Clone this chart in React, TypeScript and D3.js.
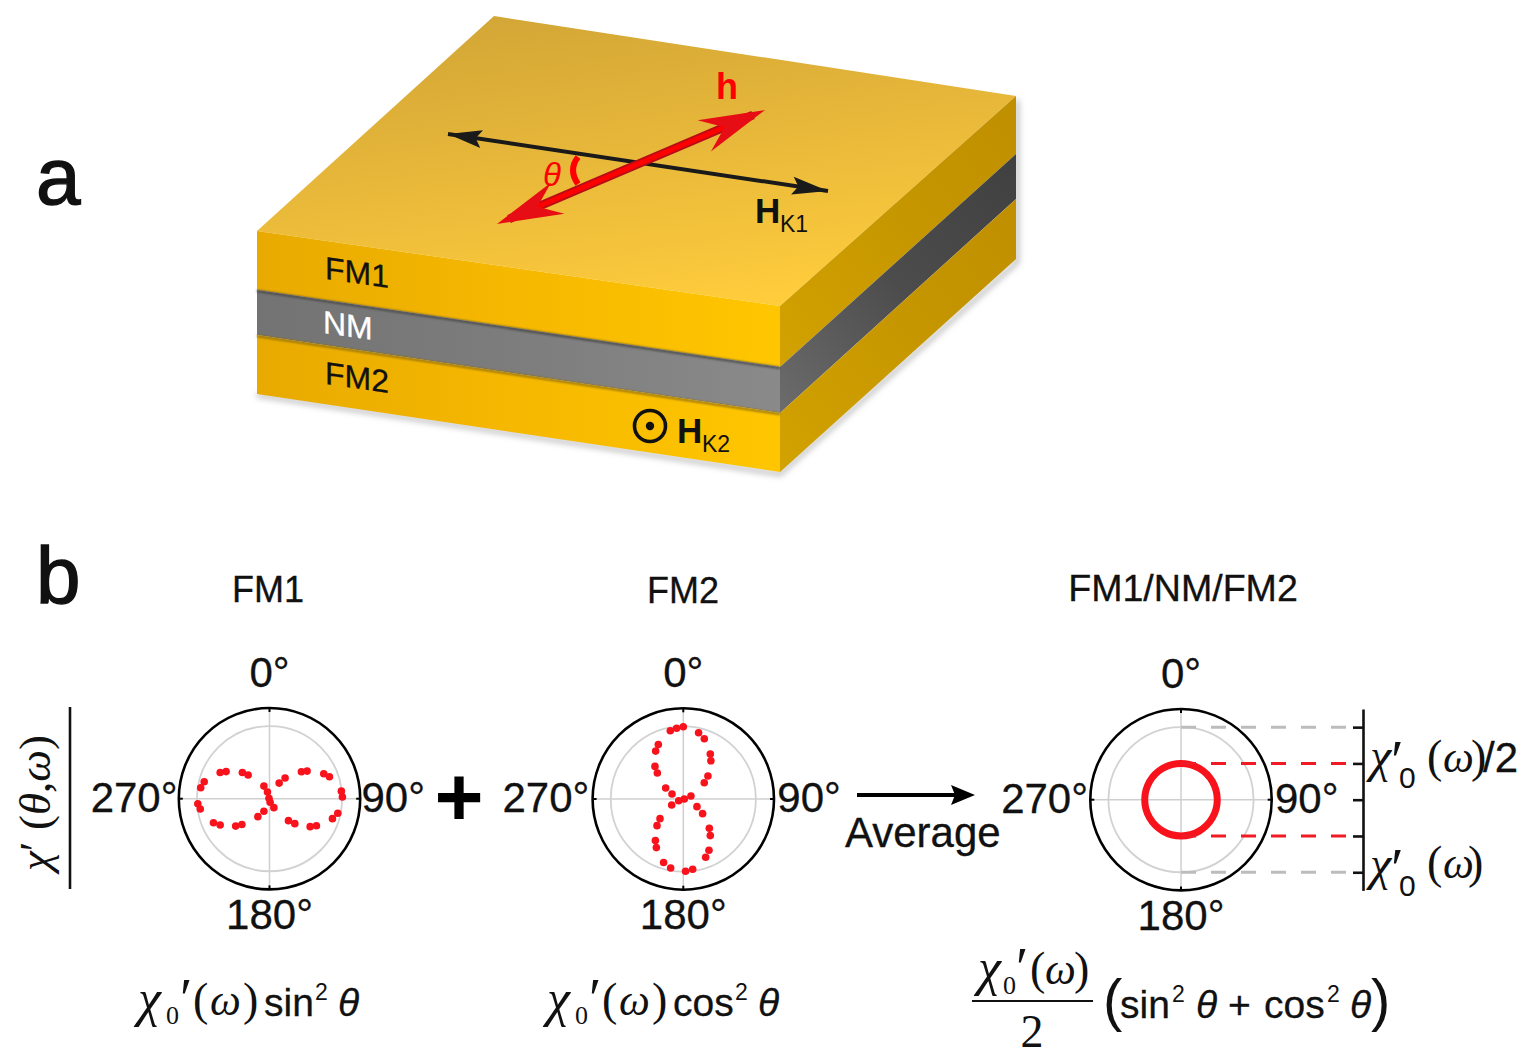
import { useEffect, useRef } from 'react'
import * as d3 from 'd3'

// polar readings, theta in degrees clockwise from the top, r relative to the gray ring
const fm1Theta = [302, 298, 314, 318, 284.6, 279, 266, 261.5, 246.8, 242, 231, 227, 213, 204, 336, 343, 315, 170, 154, 31.7, 37, 49.8, 53.7, 65.3, 69.9, 84, 88.7, 102, 107.6, 139.2, 134.6, 124.5, 119.9]
const fm1R = [0.705, 0.77, 0.52, 0.44, 0.93, 0.96, 0.99, 0.965, 0.84, 0.77, 0.6, 0.52, 0.295, 0.19, 0.19, 0.096, 0.01, 0.05, 0.137, 0.253, 0.357, 0.576, 0.643, 0.823, 0.88, 0.996, 1.005, 0.962, 0.91, 0.4, 0.49, 0.68, 0.746]
const fm2Theta = [0, 354.6, 349.2, 13, 19.2, 335.4, 330, 31, 35.8, 319, 315, 47, 52.1, 301.9, 293.8, 68.6, 90, 250, 242.8, 119.3, 127.2, 229.9, 224.6, 138.4, 143.6, 213.9, 209, 153.4, 159, 197.2, 190.4, 178.2, 172.4]
const fm2R = [0.995, 0.98, 0.957, 0.937, 0.88, 0.827, 0.762, 0.722, 0.65, 0.595, 0.506, 0.464, 0.366, 0.286, 0.17, 0.113, 0.014, 0.068, 0.18, 0.216, 0.334, 0.42, 0.516, 0.54, 0.627, 0.69, 0.766, 0.79, 0.86, 0.917, 0.966, 0.996, 0.976]
const avgTheta = [0, 30, 60, 90, 120, 150, 180, 210, 240, 270, 300, 330]
const avgR = [0.5, 0.5, 0.5, 0.5, 0.5, 0.5, 0.5, 0.5, 0.5, 0.5, 0.5, 0.5]

const gridAngles = [0, 90, 180, 270]
const angleLabels = ['0°', '90°', '180°', '270°']
const levelTicks = [1, 0.5, 0, -0.5, -1]
const grayLevels = [1, -1]
const redLevels = [0.5, -0.5]

const SANS = '"Liberation Sans", Arial, sans-serif'
const SERIF = '"Liberation Serif", "Times New Roman", serif'

const rScale = d3.scaleLinear().domain([0, 1.25]).range([0, 90.7])
const rad = (deg: number) => (deg * Math.PI) / 180

const put = (g: any, x: number, y: number, s: string, o: any = {}) => {
	const t = g
		.append('text')
		.attr('x', o.skew ? 0 : x)
		.attr('y', o.skew ? 0 : y)
		.attr('font-family', o.family || SANS)
		.attr('font-size', o.size || 40)
		.attr('fill', o.fill || '#111')
		.attr('text-anchor', o.anchor || 'start')
		.text(s)
	if (o.italic) t.attr('font-style', 'italic')
	if (o.bold) t.attr('font-weight', 'bold')
	if (o.skew) t.attr('transform', `translate(${x},${y}) skewY(${o.skew})`)
	if (o.stroke) t.attr('stroke', o.fill || '#111').attr('stroke-width', o.stroke)
	return t
}

const drawPolar = (svg: any, cx: number, cy: number, label: any) => {
	const g = svg.append('g').attr('transform', `translate(${cx},${cy})`)
	const outer = rScale(1.25)
	g.selectAll('line.grid')
		.data(gridAngles)
		.enter()
		.append('line')
		.attr('class', 'grid')
		.attr('x2', (d: number) => d3.pointRadial(rad(d), outer)[0])
		.attr('y2', (d: number) => d3.pointRadial(rad(d), outer)[1])
		.attr('stroke', '#cfcfcf')
		.attr('stroke-width', 1.5)
	g.append('circle').attr('r', rScale(1)).attr('fill', 'none').attr('stroke', '#d2d2d2').attr('stroke-width', 1.8)
	g.append('circle').attr('r', outer).attr('fill', 'none').attr('stroke', '#000').attr('stroke-width', 2.6)
	g.selectAll('line.tick')
		.data(gridAngles)
		.enter()
		.append('line')
		.attr('class', 'tick')
		.attr('x1', (d: number) => d3.pointRadial(rad(d), outer - 4)[0])
		.attr('y1', (d: number) => d3.pointRadial(rad(d), outer - 4)[1])
		.attr('x2', (d: number) => d3.pointRadial(rad(d), outer)[0])
		.attr('y2', (d: number) => d3.pointRadial(rad(d), outer)[1])
		.attr('stroke', '#000')
		.attr('stroke-width', 2)
	const style = { size: 42, stroke: 0.3 }
	put(g, 0, -112, angleLabels[0], { ...style, anchor: 'middle' })
	put(g, label.right, 13, angleLabels[1], style)
	put(g, 0, 130, angleLabels[2], { ...style, anchor: 'middle' })
	put(g, label.left, 13, angleLabels[3], { ...style, anchor: 'end' })
	return g
}

const drawDots = (g: any, theta: number[], r: number[]) => {
	g.selectAll('circle.dot')
		.data(theta)
		.enter()
		.append('circle')
		.attr('class', 'dot')
		.attr('cx', (d: number, i: number) => d3.pointRadial(rad(d), rScale(r[i]))[0])
		.attr('cy', (d: number, i: number) => d3.pointRadial(rad(d), rScale(r[i]))[1])
		.attr('r', 3.8)
		.attr('fill', '#f8121c')
}

const arrowHead = (tip: number[], from: number[], len: number, half: number, notch: number) => {
	const d = Math.hypot(tip[0] - from[0], tip[1] - from[1])
	const ux = (tip[0] - from[0]) / d
	const uy = (tip[1] - from[1]) / d
	const p = (a: number, b: number) => [tip[0] - ux * a - uy * b, tip[1] - uy * a + ux * b]
	return d3.line()([tip, p(len, half), p(notch, 0), p(len, -half)] as any) + 'Z'
}

const drawCube = (svg: any) => {
	const defs = svg.append('defs')
	const grad = (id: string, x1: string, y1: string, x2: string, y2: string, stops: string[]) => {
		const l = defs.append('linearGradient').attr('id', id).attr('x1', x1).attr('y1', y1).attr('x2', x2).attr('y2', y2)
		stops.forEach((c, i) => l.append('stop').attr('offset', i / (stops.length - 1)).attr('stop-color', c))
	}
	grad('top', '0.25', '0', '0.6', '1', ['#d2a636', '#e8b83a', '#ffcc3c'])
	grad('gold', '0', '0', '1', '0', ['#e8aa00', '#f6b800', '#ffc600'])
	grad('gray', '0', '0', '1', '0', ['#737373', '#7d7d7d', '#8a8a8a'])
	grad('side', '1', '0', '0', '1', ['#bf8f00', '#c79700', '#d2a200'])
	grad('sideGray', '1', '0', '0', '1', ['#404040', '#4c4c4c', '#6c6c6c'])
	defs.append('filter').attr('id', 'soft').append('feGaussianBlur').attr('stdDeviation', 3)
	defs.append('filter').attr('id', 'thin').append('feGaussianBlur').attr('stdDeviation', 1.2)

	const poly = (pts: number[][], fill: string) =>
		svg.append('path').attr('d', d3.line()(pts as any) + 'Z').attr('fill', fill)
	const shade = (pts: number[][], color: string, w: number, filter: string) =>
		svg
			.append('path')
			.attr('d', d3.line()(pts as any))
			.attr('fill', 'none')
			.attr('stroke', color)
			.attr('stroke-width', w)
			.attr('filter', `url(#${filter})`)

	shade([[257, 395], [780, 474], [1017, 262], [1017, 100]], '#9a9a9a', 3, 'soft')

	poly([[494, 16], [1016, 96], [780, 306], [257, 231]], 'url(#top)')
	poly([[257, 231], [780, 306], [780, 367], [257, 290]], 'url(#gold)')
	poly([[257, 290], [780, 367], [780, 413], [257, 335]], 'url(#gray)')
	poly([[257, 335], [780, 413], [780, 472], [257, 394]], 'url(#gold)')
	poly([[780, 306], [1016, 96], [1016, 154], [780, 367]], 'url(#side)')
	poly([[780, 367], [1016, 154], [1016, 199], [780, 413]], 'url(#sideGray)')
	poly([[780, 413], [1016, 199], [1016, 259], [780, 472]], 'url(#side)')
	shade([[257, 291], [780, 368]], '#444', 2, 'thin')
	shade([[257, 336], [780, 414]], '#8a6a10', 2, 'thin')

	put(svg, 325, 279, 'FM1', { size: 32, skew: 8, stroke: 0.3 })
	put(svg, 323, 333, 'NM', { size: 32, fill: '#fff', skew: 8, stroke: 0.3 })
	put(svg, 325, 384, 'FM2', { size: 32, skew: 8, stroke: 0.3 })

	// black in-plane axis
	const k0 = [448, 134]
	const k1 = [828, 191]
	svg.append('line').attr('x1', k0[0]).attr('y1', k0[1]).attr('x2', k1[0]).attr('y2', k1[1]).attr('stroke', '#1a1a1a').attr('stroke-width', 4)
	svg.append('path').attr('d', arrowHead(k0, k1, 34, 9, 28)).attr('fill', '#1a1a1a')
	svg.append('path').attr('d', arrowHead(k1, k0, 36, 9, 30)).attr('fill', '#1a1a1a')

	// red excitation field
	const h0 = [497, 224]
	const h1 = [765, 110]
	svg.append('path').attr('d', 'M578,157 Q568,170 578,184').attr('fill', 'none').attr('stroke', '#f00').attr('stroke-width', 6)
	svg.append('line').attr('x1', h0[0] + 12).attr('y1', h0[1] - 5).attr('x2', h1[0] - 12).attr('y2', h1[1] + 5).attr('stroke', '#b80d16').attr('stroke-width', 8.5)
	svg.append('line').attr('x1', h0[0] + 12).attr('y1', h0[1] - 5).attr('x2', h1[0] - 12).attr('y2', h1[1] + 5).attr('stroke', '#ff0000').attr('stroke-width', 5)
	svg.append('path').attr('d', arrowHead(h0, h1, 66, 17, 44)).attr('fill', '#e60d14')
	svg.append('path').attr('d', arrowHead(h1, h0, 66, 17, 44)).attr('fill', '#e60d14')

	put(svg, 552, 186, 'θ', { size: 33, fill: '#f00', italic: true, anchor: 'middle' })
	put(svg, 727, 99, 'h', { size: 36, fill: '#f00', bold: true, anchor: 'middle' })
	put(svg, 755, 223, 'H', { size: 35, bold: true })
	put(svg, 780, 232, 'K1', { size: 23 })

	svg.append('circle').attr('cx', 650).attr('cy', 426).attr('r', 15.5).attr('fill', 'none').attr('stroke', '#111').attr('stroke-width', 3.6)
	svg.append('circle').attr('cx', 650).attr('cy', 426).attr('r', 4.2).attr('fill', '#111')
	put(svg, 677, 443, 'H', { size: 35, bold: true })
	put(svg, 702, 452, 'K2', { size: 23 })
}

// chi with its subscript zero and prime, each offset
const drawChi = (g: any, x: number, y: number, o: any) => {
	put(g, x, y, 'χ', { family: SERIF, italic: true, size: o.size })
	put(g, x + o.subX, y + o.subY, '0', { family: o.subFamily || SERIF, size: o.subSize })
	put(g, x + o.primeX, y + o.primeY, '′', { family: SERIF, size: o.primeSize })
}

const drawOmega = (g: any, open: number, omega: number, close: number, y: number, size: number) => {
	put(g, open, y, '(', { family: SERIF, size })
	put(g, omega, y, 'ω', { family: SERIF, italic: true, size: size * 0.95 })
	put(g, close, y, ')', { family: SERIF, size })
}

export default function App() {
	const ref = useRef<SVGSVGElement | null>(null)

	useEffect(() => {
		const svg = d3.select(ref.current)
		svg.selectAll('*').remove()

		drawCube(svg)

		put(svg, 36, 204, 'a', { size: 80, stroke: 1.4 })
		put(svg, 36, 603, 'b', { size: 80, stroke: 1.4 })

		put(svg, 268, 602, 'FM1', { size: 36, anchor: 'middle', stroke: 0.3 })
		put(svg, 683, 603, 'FM2', { size: 36, anchor: 'middle', stroke: 0.3 })
		put(svg, 1183, 601, 'FM1/NM/FM2', { size: 37.6, anchor: 'middle', stroke: 0.3 })

		// y label, rotated
		const yl = svg.append('g').attr('transform', 'translate(50,871) rotate(-90)')
		const yt = put(yl, 0, 0, '', { family: SERIF, size: 45 })
		yt.append('tspan').attr('font-style', 'italic').text('χ')
		yt.append('tspan').text('′ (')
		yt.append('tspan').attr('font-style', 'italic').text('θ')
		yt.append('tspan').text(',')
		yt.append('tspan').attr('font-style', 'italic').text('ω')
		yt.append('tspan').text(')')
		svg.append('line').attr('x1', 70).attr('y1', 707).attr('x2', 70).attr('y2', 889).attr('stroke', '#111').attr('stroke-width', 2.6)

		const p1 = drawPolar(svg, 269.5, 798.7, { left: -92, right: 92 })
		drawDots(p1, fm1Theta, fm1R)

		put(svg, 459, 826, '+', { size: 84, bold: true, anchor: 'middle', fill: '#000' })

		const p2 = drawPolar(svg, 683.3, 799, { left: -94, right: 94 })
		drawDots(p2, fm2Theta, fm2R)

		// average arrow
		const a0 = [857, 795]
		const a1 = [975, 795]
		svg.append('line').attr('x1', a0[0]).attr('y1', a0[1]).attr('x2', a1[0] - 15).attr('y2', a1[1]).attr('stroke', '#000').attr('stroke-width', 4)
		svg.append('path').attr('d', arrowHead(a1, a0, 24, 10, 20)).attr('fill', '#000')
		put(svg, 845, 847, 'Average', { size: 42, stroke: 0.3 })

		const cx3 = 1181
		const cy3 = 799.7
		const yLevel = d3.scaleLinear().domain([-1.25, 1.25]).range([cy3 + rScale(1.25), cy3 - rScale(1.25)])
		const p3 = drawPolar(svg, cx3, cy3, { left: -93, right: 94 })

		const dashed = (levels: number[], color: string) =>
			svg
				.append('g')
				.selectAll('line')
				.data(levels)
				.enter()
				.append('line')
				.attr('x1', cx3)
				.attr('x2', 1350)
				.attr('y1', (d) => yLevel(d))
				.attr('y2', (d) => yLevel(d))
				.attr('stroke', color)
				.attr('stroke-width', 3)
				.attr('stroke-dasharray', '15 15')
		dashed(grayLevels, '#bcbcbc')
		dashed(redLevels, '#f01a24')

		const ring = d3
			.lineRadial<number>()
			.angle((d) => rad(d))
			.radius((_, i) => rScale(avgR[i]))
			.curve(d3.curveCardinalClosed)
		p3.append('path').attr('d', ring(avgTheta)).attr('fill', 'none').attr('stroke', '#f8121c').attr('stroke-width', 7)

		const axis = svg.append('g').attr('transform', 'translate(1363,0)').call(
			d3.axisLeft(yLevel).tickValues(levelTicks).tickSize(10).tickSizeOuter(0).tickFormat(() => '') as any
		)
		axis.selectAll('path,line').attr('stroke', '#111').attr('stroke-width', 2.6)

		// right hand labels
		const rightChi = { size: 48, subX: 29, subY: 16, subSize: 30, subFamily: SANS, primeX: 21, primeY: 8, primeSize: 58 }
		drawChi(svg, 1370, 772, rightChi)
		drawOmega(svg, 1427, 1443, 1471, 772, 46)
		put(svg, 1483, 772, '/2', { size: 42, stroke: 0.3 })
		drawChi(svg, 1370, 880, rightChi)
		drawOmega(svg, 1427, 1443, 1468, 878, 46)

		// bottom formulas
		const lowChi = { size: 52, subX: 28, subY: 8, subSize: 26, primeX: 42, primeY: 2, primeSize: 56 }
		drawChi(svg, 138, 1016, lowChi)
		drawOmega(svg, 193, 210, 243, 1015, 46)
		put(svg, 264, 1016, 'sin', { size: 39, stroke: 0.3 })
		put(svg, 315, 1000, '2', { size: 23 })
		put(svg, 338, 1016, 'θ', { size: 39, italic: true, stroke: 0.3 })

		drawChi(svg, 547, 1016, lowChi)
		drawOmega(svg, 602, 619, 652, 1015, 46)
		put(svg, 673, 1016, 'cos', { size: 39, stroke: 0.3 })
		put(svg, 735, 1000, '2', { size: 23 })
		put(svg, 758, 1016, 'θ', { size: 39, italic: true, stroke: 0.3 })

		drawChi(svg, 978, 985, { ...lowChi, subX: 25, subY: 9, primeX: 38, primeY: 2 })
		drawOmega(svg, 1030, 1045, 1074, 984, 46)
		svg.append('line').attr('x1', 972).attr('y1', 1001).attr('x2', 1093).attr('y2', 1001).attr('stroke', '#111').attr('stroke-width', 2)
		put(svg, 1032, 1047, '2', { family: SERIF, size: 46, anchor: 'middle' })
		put(svg, 1103, 1020, '(', { size: 58 })
		put(svg, 1120, 1018, 'sin', { size: 39, stroke: 0.3 })
		put(svg, 1172, 1002, '2', { size: 23 })
		put(svg, 1196, 1018, 'θ', { size: 39, italic: true, stroke: 0.3 })
		put(svg, 1228, 1018, '+', { size: 39, stroke: 0.3 })
		put(svg, 1264, 1018, 'cos', { size: 39, stroke: 0.3 })
		put(svg, 1327, 1002, '2', { size: 23 })
		put(svg, 1350, 1018, 'θ', { size: 39, italic: true, stroke: 0.3 })
		put(svg, 1371, 1020, ')', { size: 58 })
	}, [])

	return (
		<svg
			ref={ref}
			width={1535}
			height={1063}
			style={{ position: 'absolute', left: 0, top: 0, background: '#fff' }}
		/>
	)
}
